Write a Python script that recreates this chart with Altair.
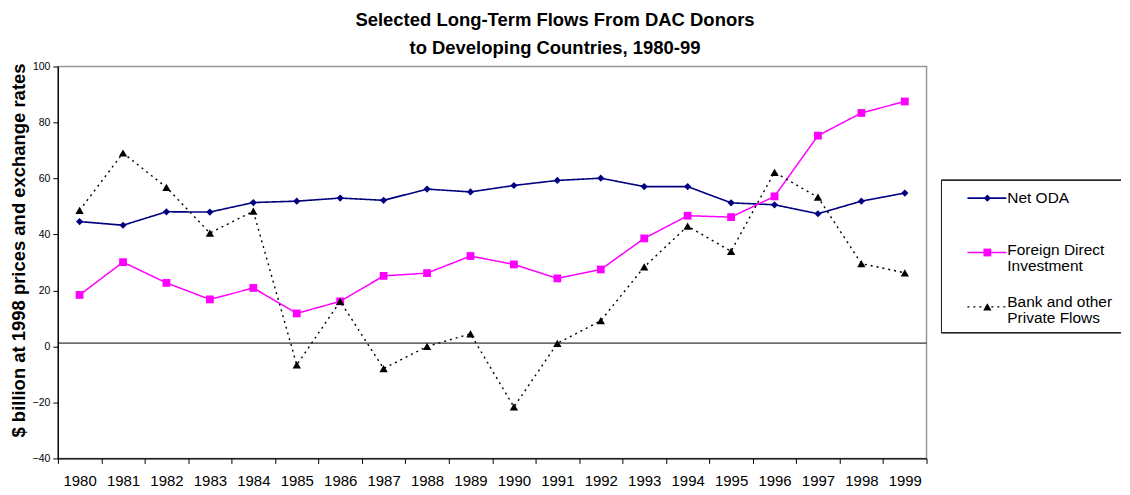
import altair as alt
import pandas as pd

# ---------------- data ----------------
years = list(range(1980, 2000))
series = ["Net ODA", "Foreign Direct Investment", "Bank and other Private Flows"]
net_oda = [44.6, 43.3, 48.1, 48.0, 51.4, 51.9, 53.0, 52.2, 56.2, 55.2,
           57.5, 59.3, 60.1, 57.1, 57.1, 51.3, 50.6, 47.4, 51.9, 54.8]
fdi = [18.4, 30.1, 22.7, 16.8, 20.9, 11.8, 16.1, 25.2, 26.2, 32.3,
       29.3, 24.3, 27.5, 38.6, 46.7, 46.2, 53.6, 75.3, 83.4, 87.5]
bank = [48.6, 69.1, 56.8, 40.5, 48.3, -6.6, 16.1, -7.9, 0.0, 4.5,
        -21.6, 1.1, 9.2, 28.4, 43.0, 34.0, 62.2, 53.3, 29.6, 26.3]
y_ticks = [-40, -20, 0, 20, 40, 60, 80, 100]
baseline = [1.2]
legend_first = ["Net ODA", "Foreign Direct", "Bank and other"]
legend_second = ["", "Investment", "Private Flows"]
title_lines = ["Selected Long-Term Flows From DAC Donors", "to Developing Countries, 1980-99"]
y_title = "$ billion at 1998 prices and exchange rates"

# ---------------- styles ----------------
FONT = "Liberation Sans"
colors = ["#000080", "#FF00FF", "#000000"]
shapes = ["diamond", "square", "triangle-up"]
dashes = [[1, 0], [1, 0], [2, 4]]
sizes = [52, 70, 70]
widths = [1.6, 1.4, 1.5]

rows = []
for s, vals in zip(series, [net_oda, fdi, bank]):
    for yr, v in zip(years, vals):
        rows.append({"year": yr, "value": v, "series": s})
df = pd.DataFrame(rows)

color_scale = alt.Scale(domain=series, range=colors)
shape_scale = alt.Scale(domain=series, range=shapes)
dash_scale = alt.Scale(domain=series, range=dashes)
size_scale = alt.Scale(domain=series, range=sizes)
width_scale = alt.Scale(domain=series, range=widths)

x_enc = alt.X(
    "year:O",
    scale=alt.Scale(type="band", paddingInner=0, paddingOuter=0),
    axis=alt.Axis(
        title=None, tickBand="extent", labelAngle=0, labelFont=FONT,
        labelFontSize=15, labelColor="black", domainColor="black",
        tickColor="black", tickSize=5, labelPadding=10.5, labelOverlap=False,
        domainWidth=1.2,
    ),
)
y_enc = alt.Y(
    "value:Q",
    scale=alt.Scale(domain=[-40, 100], nice=False, zero=False),
    axis=alt.Axis(
        values=y_ticks, grid=False, title=y_title, titleFont=FONT,
        titleFontSize=18.5, titleFontWeight="bold", titleColor="black",
        titlePadding=4, titleY=184, labelFont=FONT, labelFontSize=10.5,
        labelColor="black", domainColor="black", tickColor="black",
        tickSize=5, labelPadding=3, domainWidth=1.2,
    ),
)

zero_rule = alt.Chart(pd.DataFrame({"v": baseline})).mark_rule(
    color="black", strokeWidth=1
).encode(y="v:Q")

lines = alt.Chart(df).mark_line().encode(
    x=x_enc,
    y=y_enc,
    color=alt.Color("series:N", scale=color_scale, legend=None),
    strokeDash=alt.StrokeDash("series:N", scale=dash_scale, legend=None),
    strokeWidth=alt.StrokeWidth("series:N", scale=width_scale, legend=None),
    detail="series:N",
)
points = alt.Chart(df).mark_point(filled=True, opacity=1).encode(
    x=x_enc,
    y=y_enc,
    color=alt.Color("series:N", scale=color_scale, legend=None),
    shape=alt.Shape("series:N", scale=shape_scale, legend=None),
    size=alt.Size("series:N", scale=size_scale, legend=None),
)

main = alt.layer(zero_rule, lines, points).properties(
    width=871, height=393,
    view=alt.ViewBackground(stroke="#999999", strokeWidth=1.5),
)

# ---------------- legend panel ----------------
LW = 180
leg_df = pd.DataFrame({"series": series, "first": legend_first, "second": legend_second})
box_top = alt.Chart(leg_df).mark_rule(color="#222222", strokeWidth=1).encode(
    x=alt.value(0), x2=alt.value(LW), y=alt.value(114))
box_bottom = alt.Chart(leg_df).mark_rule(color="#222222", strokeWidth=1).encode(
    x=alt.value(0), x2=alt.value(LW), y=alt.value(267))
box_left = alt.Chart(leg_df).mark_rule(color="#222222", strokeWidth=1).encode(
    x=alt.value(0), y=alt.value(114), y2=alt.value(267))

sym_y = alt.Y("series:N", scale=alt.Scale(type="point", domain=series, range=[132, 241], padding=0), axis=None)
txt_y = alt.Y("series:N", scale=alt.Scale(type="point", domain=series, range=[132, 236], padding=0), axis=None)

leg_lines = alt.Chart(leg_df).mark_rule().encode(
    x=alt.value(26), x2=alt.value(65), y=sym_y,
    color=alt.Color("series:N", scale=color_scale, legend=None),
    strokeDash=alt.StrokeDash("series:N", scale=dash_scale, legend=None),
    strokeWidth=alt.StrokeWidth("series:N", scale=width_scale, legend=None),
)
leg_pts = alt.Chart(leg_df).mark_point(filled=True, opacity=1).encode(
    x=alt.value(46), y=sym_y,
    color=alt.Color("series:N", scale=color_scale, legend=None),
    shape=alt.Shape("series:N", scale=shape_scale, legend=None),
    size=alt.Size("series:N", scale=size_scale, legend=None),
)
leg_txt1 = alt.Chart(leg_df).mark_text(
    align="left", baseline="middle", font=FONT, fontSize=15.5, color="black"
).encode(x=alt.value(66), y=txt_y, text="first:N")
leg_txt2 = alt.Chart(leg_df).mark_text(
    align="left", baseline="middle", font=FONT, fontSize=15.5, color="black", dy=16.5
).encode(x=alt.value(66), y=txt_y, text="second:N")

legend = alt.layer(
    alt.layer(box_top, box_bottom, box_left),
    alt.layer(leg_lines, leg_pts),
    alt.layer(leg_txt1, leg_txt2),
).resolve_scale(y="independent").properties(
    width=LW, height=393,
    view=alt.ViewBackground(strokeOpacity=0),
)

chart = alt.hconcat(main, legend, spacing=12).properties(
    title=alt.TitleParams(
        text=title_lines, font=FONT, fontSize=18.5, fontWeight="bold",
        color="black", anchor="middle", lineHeight=28, offset=3, dx=-10,
    ),
    padding={"left": 0, "top": 2, "right": 0, "bottom": -3},
).configure(font=FONT).configure_view(stroke="#999999")

chart.save("out.html", embed_options={"renderer": "svg", "actions": False})
